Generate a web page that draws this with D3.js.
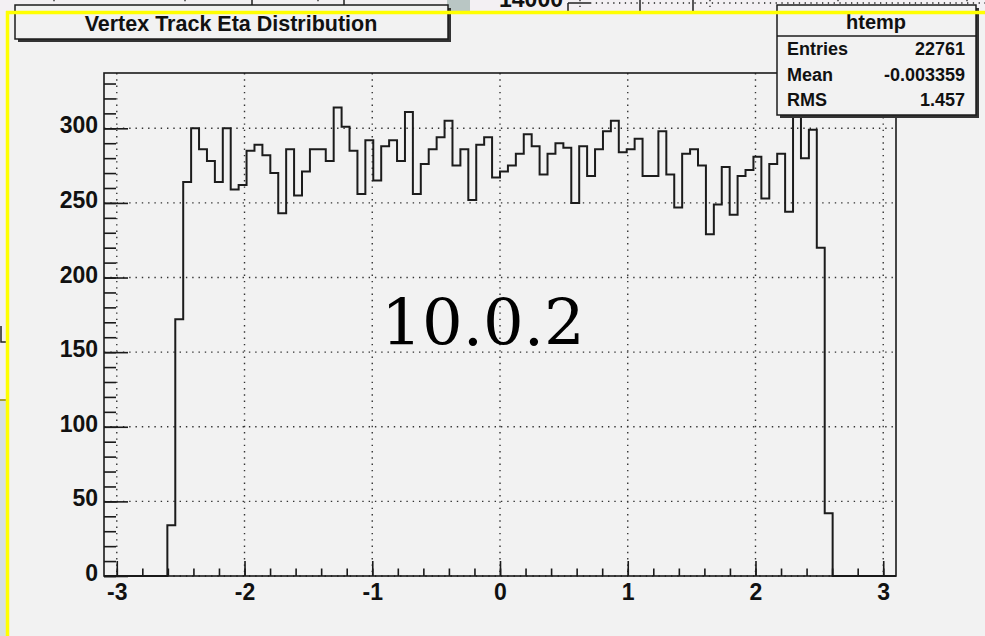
<!DOCTYPE html>
<html lang="en">
<head>
    <meta charset="UTF-8">
    <title>Vertex Track Eta Distribution</title>
    <script src="https://d3js.org/d3.v7.min.js"></script>
    <style>
        body {
            margin: 0;
            background-color: #f3f0f3;
            font-family: "Liberation Sans", Arial, sans-serif;
        }
        svg { display: block; }
        .grid-line {
            stroke: #333;
            stroke-width: 1.4;
            stroke-dasharray: 1.4 4.9;
        }
        .tick line {
            stroke: #1a1a1a;
            stroke-width: 1.6;
        }
        .tick text {
            font-family: "Liberation Sans", Arial, sans-serif;
            font-weight: bold;
            font-size: 23px;
            fill: #111;
        }
        .hist {
            fill: none;
            stroke: #1c1c1c;
            stroke-width: 2;
        }
        .box {
            fill: #f2f2f2;
            stroke: #1c1c1c;
            stroke-width: 1.5;
        }
        .label {
            font-weight: bold;
            fill: #111;
        }
    </style>
</head>
<body>

<svg id="chart" width="985" height="636"></svg>

<script>
    // Histogramm-Daten (100 Bins von -3.1 bis 3.1)
    const xRange = [-3.1, 3.1];
    const counts = [
        0, 0, 0, 0, 0, 0, 0, 0,
        34, 172, 264, 300, 286, 278, 264, 300, 259, 262,
        285, 289, 282, 270, 243, 286, 255, 271, 286, 286,
        278, 314, 301, 285, 256, 292, 265, 288, 292, 278,
        311, 256, 276, 286, 294, 305, 275, 286, 252, 289,
        294, 267, 271, 275, 283, 296, 288, 269, 283, 290,
        287, 250, 288, 268, 286, 298, 305, 284, 286, 293,
        268, 268, 298, 269, 247, 283, 286, 275, 229, 249,
        274, 242, 268, 272, 281, 253, 276, 283, 244, 321,
        280, 299, 220, 42,
        0, 0, 0, 0, 0, 0, 0, 0
    ];
    const xTicks = [-3, -2, -1, 0, 1, 2, 3];
    const yTicks = [0, 50, 100, 150, 200, 250, 300];
    const xMinorStep = 0.2;
    const yMinorStep = 10;

    const titleText = "Vertex Track Eta Distribution";
    const statsName = "htemp";
    const statsLabels = ["Entries", "Mean", "RMS"];
    const statsValues = ["22761", "-0.003359", "1.457"];
    const versionText = "10.0.2";

    const svg = d3.select("#chart");

    // Rahmen des Plots
    const frame = { left: 104, right: 896, top: 73, bottom: 576 };

    // Hintergrund innerhalb des gelben Rahmens
    svg.append("rect")
        .attr("x", 6).attr("y", 11)
        .attr("width", 979).attr("height", 625)
        .attr("fill", "#f2f2f2");

    // Reste eines anderen Fensters oben
    const bgTop = svg.append("g").attr("stroke", "#222");
    [54, 185, 318, 580, 710, 838, 967].forEach(xp => {
        bgTop.append("line")
            .attr("x1", xp).attr("x2", xp).attr("y1", 0).attr("y2", 11)
            .attr("stroke-width", 1.3).attr("stroke-dasharray", "1.3 4.5");
    });
    [252, 344, 568, 640, 693].forEach(xp => {
        bgTop.append("line")
            .attr("x1", xp).attr("x2", xp).attr("y1", xp === 568 ? 3 : 0).attr("y2", 11)
            .attr("stroke-width", 1.5);
    });
    bgTop.append("line")
        .attr("x1", 568).attr("x2", 590).attr("y1", 3).attr("y2", 3)
        .attr("stroke-width", 1.5);
    bgTop.append("line")
        .attr("x1", 590).attr("x2", 985).attr("y1", 3).attr("y2", 3)
        .attr("stroke-width", 1.3).attr("stroke-dasharray", "1.3 4.5");
    svg.append("text")
        .attr("x", 563).attr("y", 7)
        .attr("text-anchor", "end")
        .attr("class", "label")
        .attr("font-size", "23px")
        .text("14000");
    svg.append("rect")
        .attr("x", 447).attr("y", 0).attr("width", 23).attr("height", 11)
        .attr("fill", "#b9c6c4");

    // Reste links
    svg.append("rect")
        .attr("x", 0).attr("y", 400).attr("width", 6).attr("height", 236)
        .attr("fill", "#d6e0e0");
    svg.append("line")
        .attr("x1", 0).attr("x2", 6).attr("y1", 400).attr("y2", 400)
        .attr("stroke", "#a8a030").attr("stroke-width", 2);
    svg.append("path")
        .attr("d", "M 1 326 L 1 342 L 6 342")
        .attr("fill", "none").attr("stroke", "#222").attr("stroke-width", 1.5);

    // Skalen
    const x = d3.scaleLinear()
        .domain(xRange)
        .range([frame.left, frame.right]);

    const y = d3.scaleLinear()
        .domain([0, 1.05 * d3.max(counts)])
        .range([frame.bottom, frame.top]);

    // Gitterlinien
    xTicks.forEach(v => {
        svg.append("line")
            .attr("x1", x(v)).attr("x2", x(v))
            .attr("y1", frame.top).attr("y2", frame.bottom)
            .attr("class", "grid-line");
    });
    yTicks.forEach(v => {
        svg.append("line")
            .attr("x1", frame.left).attr("x2", frame.right)
            .attr("y1", y(v)).attr("y2", y(v))
            .attr("class", "grid-line");
    });

    // Histogramm als Stufenlinie
    const binWidth = (xRange[1] - xRange[0]) / counts.length;
    const steps = counts.map((c, i) => [xRange[0] + i * binWidth, c]);
    steps.push([xRange[1], counts[counts.length - 1]]);

    svg.append("path")
        .datum(steps)
        .attr("class", "hist")
        .attr("d", d3.line()
            .x(d => x(d[0]))
            .y(d => y(d[1]))
            .curve(d3.curveStepAfter));

    // Achsen (Ticks nach innen)
    const yMinor = d3.range(0, y.domain()[1], yMinorStep);
    const xMinor = d3.range(-3, 3.0001, xMinorStep);

    const yAxisG = svg.append("g")
        .attr("transform", `translate(${frame.left},0)`);
    yAxisG.append("g")
        .call(d3.axisLeft(y).tickValues(yMinor).tickSizeInner(-12).tickSizeOuter(0).tickFormat(""));
    yAxisG.append("g")
        .call(d3.axisLeft(y).tickValues(yTicks).tickSizeInner(-24).tickSizeOuter(0).tickPadding(6))
        .selectAll("text").attr("dy", "0.2em");

    const xAxisG = svg.append("g")
        .attr("transform", `translate(0,${frame.bottom})`);
    xAxisG.append("g")
        .call(d3.axisBottom(x).tickValues(xMinor).tickSizeInner(-7.5).tickSizeOuter(0).tickFormat(""));
    xAxisG.append("g")
        .call(d3.axisBottom(x).tickValues(xTicks).tickSizeInner(-15).tickSizeOuter(0).tickPadding(8)
            .tickFormat(d => String(d)));

    svg.selectAll(".domain").remove();

    // Rahmen
    svg.append("rect")
        .attr("x", frame.left).attr("y", frame.top)
        .attr("width", frame.right - frame.left)
        .attr("height", frame.bottom - frame.top)
        .attr("fill", "none")
        .attr("stroke", "#1a1a1a")
        .attr("stroke-width", 1.6);

    // Titelbox
    svg.append("rect")
        .attr("x", 18).attr("y", 8).attr("width", 433).attr("height", 34)
        .attr("fill", "#333");
    svg.append("rect")
        .attr("x", 15).attr("y", 5).attr("width", 433).attr("height", 34)
        .attr("class", "box");
    svg.append("text")
        .attr("x", 231).attr("y", 31)
        .attr("text-anchor", "middle")
        .attr("class", "label")
        .attr("font-size", "21.5px")
        .text(titleText);

    // Statistikbox
    svg.append("rect")
        .attr("x", 780).attr("y", 8).attr("width", 199).attr("height", 110)
        .attr("fill", "#333");
    svg.append("rect")
        .attr("x", 777).attr("y", 5).attr("width", 199).attr("height", 110)
        .attr("class", "box");
    svg.append("line")
        .attr("x1", 777).attr("x2", 976).attr("y1", 36).attr("y2", 36)
        .attr("stroke", "#1c1c1c").attr("stroke-width", 1.5);
    svg.append("text")
        .attr("x", 876).attr("y", 29)
        .attr("text-anchor", "middle")
        .attr("class", "label")
        .attr("font-size", "20px")
        .text(statsName);
    statsLabels.forEach((lab, i) => {
        const yy = 55 + i * 25.5;
        svg.append("text")
            .attr("x", 787).attr("y", yy)
            .attr("class", "label")
            .attr("font-size", "18px")
            .text(lab);
        svg.append("text")
            .attr("x", 965).attr("y", yy)
            .attr("text-anchor", "end")
            .attr("class", "label")
            .attr("font-size", "18px")
            .text(statsValues[i]);
    });

    // Versionstext
    svg.append("text")
        .attr("x", 483).attr("y", 345)
        .attr("text-anchor", "middle")
        .attr("font-family", "'DejaVu Serif', serif")
        .attr("font-size", "64px")
        .attr("fill", "#000")
        .text(versionText);

    // Gelber Rahmen
    svg.append("line")
        .attr("x1", 6).attr("x2", 985).attr("y1", 12.5).attr("y2", 12.5)
        .attr("stroke", "#ffff00").attr("stroke-width", 3.5);
    svg.append("line")
        .attr("x1", 7.5).attr("x2", 7.5).attr("y1", 11).attr("y2", 636)
        .attr("stroke", "#ffff00").attr("stroke-width", 3.5);
</script>

</body>
</html>
